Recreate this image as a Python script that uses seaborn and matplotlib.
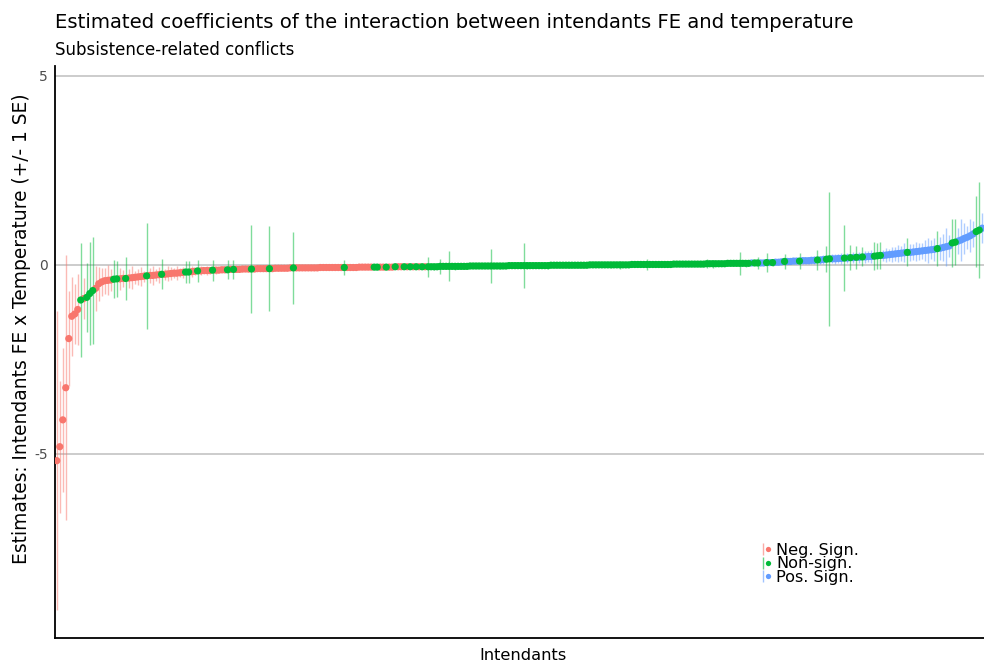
import numpy as np
import pandas as pd
import matplotlib
matplotlib.use("Agg")
import matplotlib.pyplot as plt
import seaborn as sns
from matplotlib.lines import Line2D
from matplotlib.legend_handler import HandlerTuple

# ---- data (sorted estimates) ----
estimates = [
    -5.18, -4.81, -4.10, -3.25, -1.95, -1.36, -1.30, -1.18, -0.93, -0.89,
    -0.86, -0.76, -0.68, -0.62, -0.50, -0.45, -0.42, -0.41, -0.40, -0.38,
    -0.37, -0.37, -0.36, -0.36, -0.35, -0.34, -0.33, -0.32, -0.31, -0.30,
    -0.29, -0.28, -0.28, -0.27, -0.26, -0.25, -0.25, -0.24, -0.23, -0.22,
    -0.22, -0.21, -0.20, -0.19, -0.19, -0.18, -0.17, -0.16, -0.16, -0.15,
    -0.15, -0.15, -0.14, -0.14, -0.14, -0.13, -0.13, -0.13, -0.12, -0.12,
    -0.12, -0.12, -0.11, -0.11, -0.11, -0.11, -0.11, -0.10, -0.10, -0.10,
    -0.10, -0.10, -0.10, -0.09, -0.09, -0.09, -0.09, -0.09, -0.08, -0.08,
    -0.08, -0.08, -0.08, -0.08, -0.08, -0.08, -0.08, -0.08, -0.07, -0.07,
    -0.07, -0.07, -0.07, -0.07, -0.07, -0.07, -0.07, -0.07, -0.07, -0.07,
    -0.07, -0.06, -0.06, -0.06, -0.06, -0.06, -0.06, -0.06, -0.06, -0.06,
    -0.06, -0.06, -0.06, -0.05, -0.05, -0.05, -0.05, -0.05, -0.05, -0.05,
    -0.05, -0.05, -0.05, -0.05, -0.05, -0.05, -0.05, -0.05, -0.04, -0.04,
    -0.04, -0.04, -0.04, -0.04, -0.04, -0.04, -0.04, -0.04, -0.03, -0.03,
    -0.03, -0.03, -0.03, -0.03, -0.03, -0.03, -0.03, -0.03, -0.03, -0.03,
    -0.03, -0.02, -0.02, -0.02, -0.02, -0.02, -0.02, -0.02, -0.02, -0.02,
    -0.02, -0.02, -0.02, -0.02, -0.02, -0.01, -0.01, -0.01, -0.01, -0.01,
    -0.01, -0.01, -0.01, -0.01, -0.01, -0.01, -0.01, -0.01, 0.00, 0.00,
    0.00, 0.00, 0.00, 0.00, 0.00, 0.00, 0.00, 0.00, 0.00, 0.00,
    0.00, 0.00, 0.01, 0.01, 0.01, 0.01, 0.01, 0.01, 0.01, 0.01,
    0.01, 0.01, 0.01, 0.01, 0.01, 0.01, 0.02, 0.02, 0.02, 0.02,
    0.02, 0.02, 0.02, 0.02, 0.02, 0.02, 0.02, 0.03, 0.03, 0.03,
    0.03, 0.03, 0.03, 0.03, 0.04, 0.04, 0.04, 0.04, 0.04, 0.04,
    0.04, 0.04, 0.05, 0.05, 0.05, 0.05, 0.05, 0.06, 0.06, 0.06,
    0.07, 0.07, 0.08, 0.09, 0.09, 0.09, 0.10, 0.10, 0.10, 0.11,
    0.11, 0.11, 0.12, 0.12, 0.13, 0.13, 0.14, 0.15, 0.16, 0.16,
    0.16, 0.17, 0.17, 0.18, 0.18, 0.19, 0.19, 0.20, 0.20, 0.21,
    0.21, 0.22, 0.22, 0.23, 0.24, 0.25, 0.25, 0.26, 0.27, 0.28,
    0.29, 0.30, 0.31, 0.32, 0.33, 0.33, 0.34, 0.35, 0.36, 0.37,
    0.38, 0.39, 0.40, 0.41, 0.43, 0.44, 0.46, 0.48, 0.50, 0.58,
    0.60, 0.63, 0.66, 0.70, 0.73, 0.77, 0.82, 0.88, 0.92, 0.97,
]
std_errors = [
    3.95, 1.75, 1.90, 3.50, 1.25, 1.05, 0.80, 0.95, 1.51, 0.55,
    0.91, 1.37, 1.42, 0.60, 0.45, 0.38, 0.35, 0.40, 0.28, 0.50,
    0.48, 0.30, 0.22, 0.58, 0.25, 0.30, 0.18, 0.22, 0.26, 0.15,
    1.40, 0.20, 0.24, 0.16, 0.21, 0.40, 0.14, 0.20, 0.17, 0.13,
    0.18, 0.12, 0.15, 0.30, 0.28, 0.14, 0.10, 0.30, 0.12, 0.09,
    0.11, 0.08, 0.28, 0.10, 0.07, 0.09, 0.08, 0.25, 0.07, 0.25,
    0.08, 0.06, 0.07, 0.06, 0.08, 1.16, 0.06, 0.07, 0.05, 0.06,
    0.05, 1.12, 0.06, 0.05, 0.06, 0.05, 0.04, 0.05, 0.04, 0.96,
    0.04, 0.05, 0.04, 0.03, 0.04, 0.05, 0.04, 0.03, 0.04, 0.03,
    0.04, 0.03, 0.03, 0.04, 0.03, 0.03, 0.20, 0.03, 0.03, 0.02,
    0.03, 0.03, 0.02, 0.03, 0.02, 0.03, 0.05, 0.05, 0.02, 0.03,
    0.06, 0.02, 0.02, 0.05, 0.02, 0.02, 0.06, 0.02, 0.05, 0.02,
    0.06, 0.02, 0.05, 0.02, 0.27, 0.05, 0.08, 0.05, 0.20, 0.05,
    0.04, 0.40, 0.05, 0.10, 0.04, 0.05, 0.04, 0.05, 0.04, 0.06,
    0.04, 0.05, 0.04, 0.05, 0.04, 0.44, 0.05, 0.04, 0.08, 0.04,
    0.05, 0.04, 0.05, 0.04, 0.05, 0.04, 0.59, 0.10, 0.04, 0.05,
    0.04, 0.05, 0.04, 0.05, 0.10, 0.04, 0.05, 0.04, 0.05, 0.04,
    0.05, 0.07, 0.04, 0.05, 0.04, 0.05, 0.04, 0.05, 0.04, 0.05,
    0.04, 0.05, 0.04, 0.05, 0.04, 0.08, 0.04, 0.05, 0.10, 0.04,
    0.05, 0.04, 0.05, 0.04, 0.05, 0.04, 0.05, 0.14, 0.04, 0.06,
    0.05, 0.04, 0.05, 0.04, 0.05, 0.04, 0.05, 0.04, 0.05, 0.04,
    0.05, 0.04, 0.05, 0.04, 0.05, 0.04, 0.05, 0.12, 0.05, 0.10,
    0.05, 0.04, 0.05, 0.04, 0.05, 0.04, 0.05, 0.04, 0.30, 0.05,
    0.10, 0.05, 0.03, 0.05, 0.15, 0.03, 0.04, 0.25, 0.03, 0.08,
    0.04, 0.05, 0.06, 0.20, 0.06, 0.07, 0.08, 0.06, 0.22, 0.09,
    0.08, 0.10, 0.09, 0.11, 0.27, 0.10, 0.12, 0.35, 1.77, 0.12,
    0.14, 0.12, 0.15, 0.87, 0.13, 0.33, 0.14, 0.30, 0.15, 0.25,
    0.16, 0.14, 0.17, 0.37, 0.35, 0.35, 0.15, 0.18, 0.16, 0.20,
    0.18, 0.22, 0.20, 0.25, 0.37, 0.22, 0.20, 0.26, 0.23, 0.21,
    0.28, 0.33, 0.25, 0.30, 0.47, 0.30, 0.35, 0.50, 0.30, 0.63,
    0.60, 0.35, 0.55, 0.40, 0.30, 0.44, 0.35, 0.93, 1.28, 0.40,
]
# N = Neg. Sign., S = Non-sign., P = Pos. Sign.
sign_codes = (
    "NNNNNNNNSN" "SSSNNNNNNS" "SNNSNNNNNN" "SNNNNSNNNN" "NNNSSNNSNN"
    "NNSNNNNSNS" "NNNNNSNNNN" "NSNNNNNNNS" "NNNNNNNNNN" "NNNNNNSNNN"
    "NNNNNNSSNN" "SNNSNNSNSN" "SNSNSSSSSS" "SSSSSSSSSS" "SSSSSSSSSS"
    "SSSSSSSSSS" "SSSSSSSSSS" "SSSSSSSSSS" "SSSSSSSSSS" "SSSSSSSSSS"
    "SSSSSSSSSS" "SSSSSSSSSS" "SSSSSSSSSS" "SSPSSPPSPS" "PPPSPPPPSP"
    "PPPPSPPSSP" "PPPSPSPSPS" "PPPSSSPPPP" "PPPPSPPPPP" "PPPPSPPPPS"
    "SPPPPPPSSP"
)
code_labels = {"N": "Neg. Sign.", "S": "Non-sign.", "P": "Pos. Sign."}
hue_order = ["Neg. Sign.", "Non-sign.", "Pos. Sign."]
palette = {"Neg. Sign.": "#F8766D", "Non-sign.": "#00BA38", "Pos. Sign.": "#619CFF"}

n = len(estimates)
df = pd.DataFrame({
    "rank": np.arange(1, n + 1),
    "estimate": estimates,
    "se": std_errors,
    "sign": [code_labels[c] for c in sign_codes],
})

sns.set_theme(style="white")
plt.rcParams["font.family"] = ["DejaVu Sans"]

W, H = 984, 666
fig = plt.figure(figsize=(W / 100, H / 100), dpi=100)
ax = fig.add_axes([55 / W, 1 - 638 / H, 929 / W, (638 - 66) / H])

# grid lines
for yv in (-5, 0, 5):
    ax.axhline(yv, color="#BEBEBE", lw=1.1, zorder=0)

# error bars (+/- 1 SE)
for lab in ["Neg. Sign.", "Pos. Sign.", "Non-sign."]:
    sub = df[df["sign"] == lab]
    ax.vlines(sub["rank"], sub["estimate"] - sub["se"], sub["estimate"] + sub["se"],
              color=palette[lab], alpha=0.5, lw=1.0, zorder=2)

# points: non-significant on top
order_key = df["sign"].map({"Neg. Sign.": 0, "Pos. Sign.": 1, "Non-sign.": 2})
df_plot = df.assign(_o=order_key).sort_values(["_o", "rank"], kind="stable")
sns.scatterplot(data=df_plot, x="rank", y="estimate", hue="sign", hue_order=hue_order,
                palette=palette, s=27, linewidth=0, ax=ax, legend=False, zorder=3)

ax.set_xlim(0.4, n + 0.6)
ax.set_ylim(-9.87, 5.26)
ax.set_xticks([])
ax.set_yticks([-5, 0, 5])
ax.set_yticklabels(["-5", "0", "5"])
ax.tick_params(axis="y", length=0, pad=5, labelsize=10, labelcolor="#4D4D4D")
ax.set_xlabel("")
ax.set_ylabel("")
for s in ("top", "right"):
    ax.spines[s].set_visible(False)
for s in ("left", "bottom"):
    ax.spines[s].set_color("black")
    ax.spines[s].set_linewidth(1.3)

fig.text(55 / W, 1 - 22 / H, "Estimated coefficients of the interaction between intendants FE and temperature",
         ha="left", va="center", fontsize=14.1, color="black")
fig.text(55 / W, 1 - 50 / H, "Subsistence-related conflicts",
         ha="left", va="center", fontsize=11.95, color="black")
fig.text(22 / W, 1 - 329 / H, "Estimates: Intendants FE x Temperature (+/- 1 SE)",
         ha="center", va="center", rotation=90, fontsize=13.4, color="black")
fig.text(523 / W, 1 - 656 / H, "Intendants", ha="center", va="center", fontsize=11.7, color="black")

handles = []
for lab in hue_order:
    c = palette[lab]
    handles.append((Line2D([], [], color=c, marker="|", markersize=8, mew=1.0,
                           linestyle="None", alpha=0.6),
                    Line2D([], [], color=c, marker="o", markersize=3.8, mew=0,
                           linestyle="None")))
leg = ax.legend(handles, hue_order, handler_map={tuple: HandlerTuple(ndivide=None)},
                loc="upper left", bbox_to_anchor=(761 / W, 1 - 543 / H),
                bbox_transform=fig.transFigure, frameon=False, fontsize=11.6,
                handlelength=0.6, handletextpad=0.35, labelspacing=-0.1,
                borderpad=0, borderaxespad=0, labelcolor="black")

fig.savefig("out.png", dpi=100)
